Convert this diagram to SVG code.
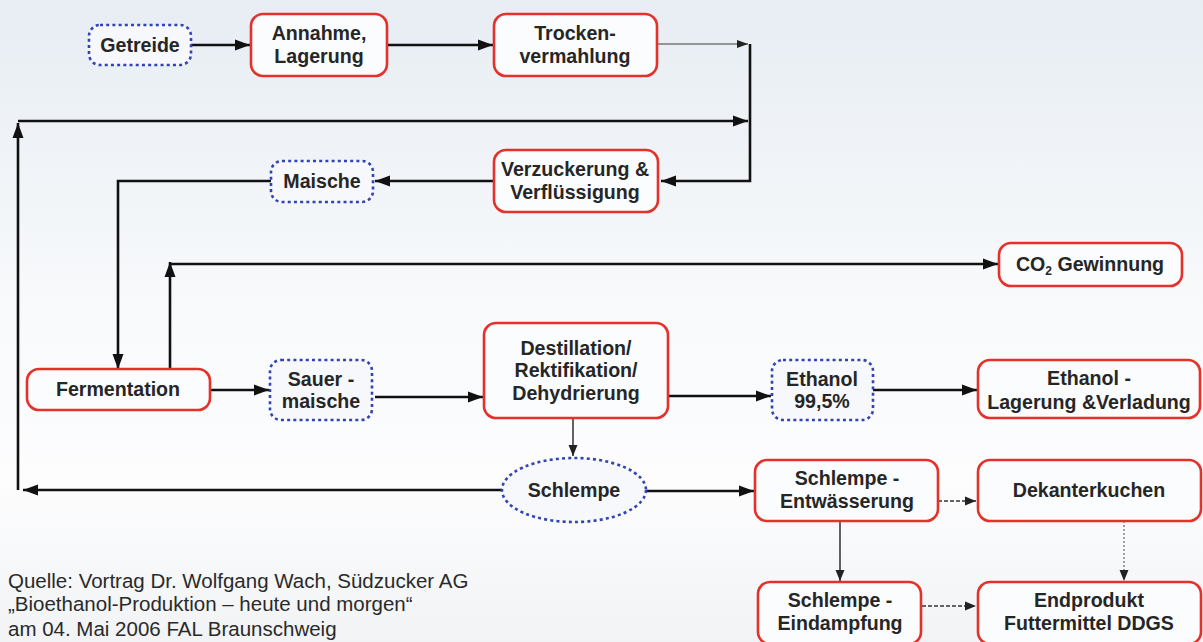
<svg xmlns="http://www.w3.org/2000/svg" width="1203" height="642" viewBox="0 0 1203 642">
<style>
.red{fill:#fbfcfd;stroke:#e5312b;stroke-width:2.6}
.blue{fill:#f6f8fb;stroke:#3343b0;stroke-width:2.6;stroke-dasharray:3 3.2}
.t{font-family:"Liberation Sans",Arial,sans-serif;font-weight:bold;font-size:19.6px;fill:#262626;text-anchor:middle}
.src{font-family:"Liberation Sans",Arial,sans-serif;font-size:20.5px;fill:#2a2a2a}
.c{fill:none;stroke:#111;stroke-width:2.6}
.ct{fill:none;stroke:#222;stroke-width:1.4}
.cd{fill:none;stroke:#333;stroke-width:1.4;stroke-dasharray:4 2}
</style>
<defs>
<linearGradient id="bg" x1="0" y1="0" x2="0" y2="1">
<stop offset="0" stop-color="#e7edf3"/>
<stop offset="0.45" stop-color="#f7f9fb"/>
<stop offset="0.75" stop-color="#fdfdfe"/>
<stop offset="1" stop-color="#f1f3f5"/>
</linearGradient>
<marker id="a" markerUnits="userSpaceOnUse" markerWidth="16" markerHeight="12" refX="15" refY="6" orient="auto">
<path d="M0,0.5 L15,6 L0,11.5 z" fill="#111"/>
</marker>
<marker id="s" markerUnits="userSpaceOnUse" markerWidth="12" markerHeight="10" refX="11" refY="5" orient="auto">
<path d="M0,0.5 L11,5 L0,9.5 z" fill="#222"/>
</marker>
<marker id="g" markerUnits="userSpaceOnUse" markerWidth="12" markerHeight="10" refX="11" refY="5" orient="auto">
<path d="M0,1 L11,5 L0,9 z" fill="#222"/>
</marker>
</defs>
<rect width="1203" height="642" fill="url(#bg)"/>

<g id="connectors">
<path class="c" d="M190,45 H250" marker-end="url(#a)"/>
<path class="c" d="M387,45 H493" marker-end="url(#a)"/>
<path d="M657,44 H748" fill="none" stroke="#777" stroke-width="1.4" marker-end="url(#g)"/>
<path class="c" d="M750,44 V181 H661" marker-end="url(#a)"/>
<path class="c" d="M18,490 V123" marker-end="url(#a)"/>
<path class="c" d="M18,121 H748" marker-end="url(#a)"/>
<path class="c" d="M493,181 H375" marker-end="url(#a)"/>
<path class="c" d="M271,181 H118 V369" marker-end="url(#a)"/>
<path class="c" d="M170,370 V262" marker-end="url(#a)"/>
<path class="c" d="M170,264 H998" marker-end="url(#a)"/>
<path class="c" d="M210,390 H269" marker-end="url(#a)"/>
<path class="c" d="M375,397 H483" marker-end="url(#a)"/>
<path class="c" d="M668,396 H771" marker-end="url(#a)"/>
<path class="c" d="M873,390 H977" marker-end="url(#a)"/>
<path class="ct" d="M573,419 V456" marker-end="url(#s)"/>
<path class="c" d="M502,490 H23" marker-end="url(#a)"/>
<path class="c" d="M646,491 H754" marker-end="url(#a)"/>
<path class="cd" d="M938,501 H976" marker-end="url(#s)"/>
<path class="ct" d="M840,521 V581" marker-end="url(#s)"/>
<path class="cd" d="M922,606 H976" marker-end="url(#s)"/>
<path d="M1124,521 V581" fill="none" stroke="#666" stroke-width="1.2" stroke-dasharray="2 2" marker-end="url(#s)"/>
</g>

<g id="getreide"><rect class="blue" x="89" y="25" width="102" height="40" rx="11"/><text class="t" x="140" y="52">Getreide</text></g>
<g id="annahme"><rect class="red" x="251" y="14" width="136" height="62" rx="12"/><text class="t" x="319" y="40">Annahme,</text><text class="t" x="319" y="63">Lagerung</text></g>
<g id="trocken"><rect class="red" x="494" y="14" width="163" height="62" rx="12"/><text class="t" x="575" y="40">Trocken-</text><text class="t" x="575" y="63">vermahlung</text></g>
<g id="verzuckerung"><rect class="red" x="494" y="150" width="164" height="62" rx="12"/><text class="t" x="575" y="176">Verzuckerung &amp;</text><text class="t" x="575" y="199">Verflüssigung</text></g>
<g id="maische"><rect class="blue" x="271" y="161" width="102" height="41" rx="11"/><text class="t" x="322" y="188">Maische</text></g>
<g id="co2"><rect class="red" x="999" y="243" width="183" height="43" rx="12"/><text class="t" x="1090" y="271">CO<tspan font-size="12" dy="4">2</tspan><tspan dy="-4"> Gewinnung</tspan></text></g>
<g id="fermentation"><rect class="red" x="27" y="369" width="183" height="41" rx="12"/><text class="t" x="118" y="396">Fermentation</text></g>
<g id="sauermaische"><rect class="blue" x="270" y="360" width="102" height="60" rx="11"/><text class="t" x="321" y="386">Sauer -</text><text class="t" x="321" y="408">maische</text></g>
<g id="destillation"><rect class="red" x="484" y="323" width="184" height="95" rx="12"/><text class="t" x="576" y="355">Destillation/</text><text class="t" x="576" y="377">Rektifikation/</text><text class="t" x="576" y="400">Dehydrierung</text></g>
<g id="ethanol"><rect class="blue" x="772" y="360" width="101" height="60" rx="11"/><text class="t" x="822" y="386">Ethanol</text><text class="t" x="822" y="408">99,5%</text></g>
<g id="ethanol-lagerung"><rect class="red" x="978" y="360" width="222" height="58" rx="12"/><text class="t" x="1089" y="385">Ethanol -</text><text class="t" x="1089" y="409" font-size="18.5">Lagerung &amp;Verladung</text></g>
<g id="schlempe"><ellipse class="blue" cx="574" cy="490" rx="72" ry="32"/><text class="t" x="574" y="497">Schlempe</text></g>
<g id="entwaesserung"><rect class="red" x="755" y="460" width="183" height="61" rx="12"/><text class="t" x="847" y="485">Schlempe -</text><text class="t" x="847" y="508">Entwässerung</text></g>
<g id="dekanterkuchen"><rect class="red" x="978" y="460" width="223" height="61" rx="12"/><text class="t" x="1089" y="497">Dekanterkuchen</text></g>
<g id="eindampfung"><rect class="red" x="758" y="582" width="163" height="62" rx="12"/><text class="t" x="840" y="607">Schlempe -</text><text class="t" x="840" y="630">Eindampfung</text></g>
<g id="endprodukt"><rect class="red" x="978" y="582" width="223" height="62" rx="12"/><text class="t" x="1089" y="607">Endprodukt</text><text class="t" x="1089" y="630">Futtermittel DDGS</text></g>

<g id="source">
<text class="src" x="8" y="588">Quelle: Vortrag Dr. Wolfgang Wach, Südzucker AG</text>
<text class="src" x="8" y="611">„Bioethanol-Produktion – heute und morgen“</text>
<text class="src" x="8" y="636">am 04. Mai 2006 FAL Braunschweig</text>
</g>
</svg>
